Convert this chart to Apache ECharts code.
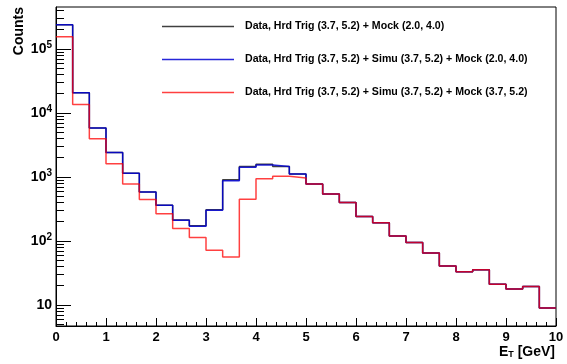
<!DOCTYPE html>
<html><head><meta charset="utf-8">
<script src="https://cdn.jsdelivr.net/npm/echarts@6/dist/echarts.min.js"></script>
<style>html,body{margin:0;padding:0;background:#fff}#c{width:567px;height:364px}</style>
</head><body><div id="c"></div>
<script>
const nBins = 30;
const xMin = 0, xMax = 10;
const seriesNames = [
  'Data, Hrd Trig (3.7, 5.2) + Mock (2.0, 4.0)',
  'Data, Hrd Trig (3.7, 5.2) + Simu (3.7, 5.2) + Mock (2.0, 4.0)',
  'Data, Hrd Trig (3.7, 5.2) + Simu (3.7, 5.2) + Mock (3.7, 5.2)'
];
const blackCounts = [237000, 20700, 5800, 2400, 1140, 583, 360, 212, 172, 307, 900, 1450, 1574, 1449, 1114, 777, 542, 398, 242, 193, 120, 95, 65, 40.6, 33.1, 35.6, 21, 17.8, 19.5, 9];
const blueCounts  = [237000, 20700, 5800, 2400, 1140, 583, 360, 210, 170, 303, 875, 1413, 1540, 1449, 1114, 777, 542, 398, 242, 193, 120, 95, 65, 40.6, 33.1, 35.6, 21, 17.8, 19.5, 9];
const redCounts   = [154000, 13500, 3930, 1610, 777, 442, 267, 156, 113, 71.3, 56, 447, 940, 1025, 964, 777, 542, 398, 242, 193, 120, 95, 65, 40.6, 33.1, 35.6, 21, 17.8, 19.5, 9];
const yMajorTicks = [10, 100, 1000, 10000, 100000];
const yMinorTicks = [5,6,7,8,9,20,30,40,50,60,70,80,90,200,300,400,500,600,700,800,900,2000,3000,4000,5000,6000,7000,8000,9000,20000,30000,40000,50000,60000,70000,80000,90000,200000,300000,400000];

const binW = (xMax - xMin) / nBins;
function histPoints(vals) {
  const pts = vals.map((v, i) => [xMin + i * binW, v]);
  pts.push([xMax, vals[vals.length - 1]]);
  return pts;
}
const FONT = 'Liberation Sans';
const chart = echarts.init(document.getElementById('c'), null, {renderer: 'canvas'});
function sup(v) {
  const e = Math.round(Math.log10(v));
  if (e === 1) return '{b|10}';
  return '{b|10}{s|' + e + '}';
}
const colBlack = 'rgba(0,0,0,0.75)', colBlue = 'rgba(0,0,210,0.85)', colRed = 'rgba(255,0,0,0.75)';
chart.setOption({
  animation: false,
  grid: {left: 56, right: 11, top: 7, bottom: 38, show: true, borderColor: '#000', borderWidth: 1, backgroundColor: 'transparent'},
  legend: {
    left: 157, top: 15, orient: 'vertical', itemWidth: 72, itemHeight: 1.5, itemGap: 20, icon: 'rect',
    textStyle: {fontFamily: FONT, fontWeight: 'bold', fontSize: 10.6, color: '#000', padding: [0, 0, 0, 6], lineHeight: 13},
    data: seriesNames
  },
  xAxis: {
    type: 'value', min: xMin, max: xMax, interval: 1,
    axisLine: {onZero: false, lineStyle: {color: '#000', width: 1}},
    axisTick: {inside: true, length: 8, lineStyle: {color: '#000'}},
    minorTick: {show: true, splitNumber: 5, length: 4, lineStyle: {color: '#000'}},
    splitLine: {show: false},
    axisLabel: {fontFamily: FONT, fontWeight: 'bold', fontSize: 13, color: '#000', margin: 5}
  },
  yAxis: [{
    type: 'log', logBase: 10, min: 4.7, max: 450000,
    axisLine: {show: true, lineStyle: {color: '#000', width: 1}},
    axisTick: {show: true, inside: true, length: 15, customValues: yMajorTicks, lineStyle: {color: '#000'}},
    splitLine: {show: false},
    axisLabel: {
      customValues: yMajorTicks, margin: 4,
      formatter: sup,
      rich: {
        b: {fontFamily: FONT, fontWeight: 'bold', fontSize: 14, color: '#000'},
        s: {fontFamily: FONT, fontWeight: 'bold', fontSize: 10, color: '#000', verticalAlign: 'top', padding: [0, 0, 8, 0]}
      }
    }
  }, {
    type: 'log', logBase: 10, min: 4.7, max: 450000, position: 'left',
    axisLine: {show: false},
    axisTick: {show: true, inside: true, length: 8, customValues: yMinorTicks, lineStyle: {color: '#000'}},
    axisLabel: {show: false},
    splitLine: {show: false}
  }],
  graphic: [
    {type: 'text', left: 12, top: 7, rotation: Math.PI / 2, originX: 0, originY: 0,
     style: {text: 'Counts', font: 'bold 14px ' + FONT, fill: '#000'}},
    {type: 'text', right: 12, top: 345,
     style: {text: '{b|E}{s|T}{b| [GeV]}', rich: {
       b: {font: 'bold 14px ' + FONT, fill: '#000'},
       s: {font: 'bold 9px ' + FONT, fill: '#000', verticalAlign: 'bottom', padding: [6, 0, 0, 0]}
     }}}
  ],
  series: [
    {name: seriesNames[0], type: 'line', step: 'end', symbol: 'none', data: histPoints(blackCounts),
     lineStyle: {color: colBlack, width: 1.5}, itemStyle: {color: colBlack}},
    {name: seriesNames[1], type: 'line', step: 'end', symbol: 'none', data: histPoints(blueCounts),
     lineStyle: {color: colBlue, width: 1.5}, itemStyle: {color: colBlue}},
    {name: seriesNames[2], type: 'line', step: 'end', symbol: 'none', data: histPoints(redCounts),
     lineStyle: {color: colRed, width: 1.5}, itemStyle: {color: colRed}}
  ]
});
</script></body></html>
